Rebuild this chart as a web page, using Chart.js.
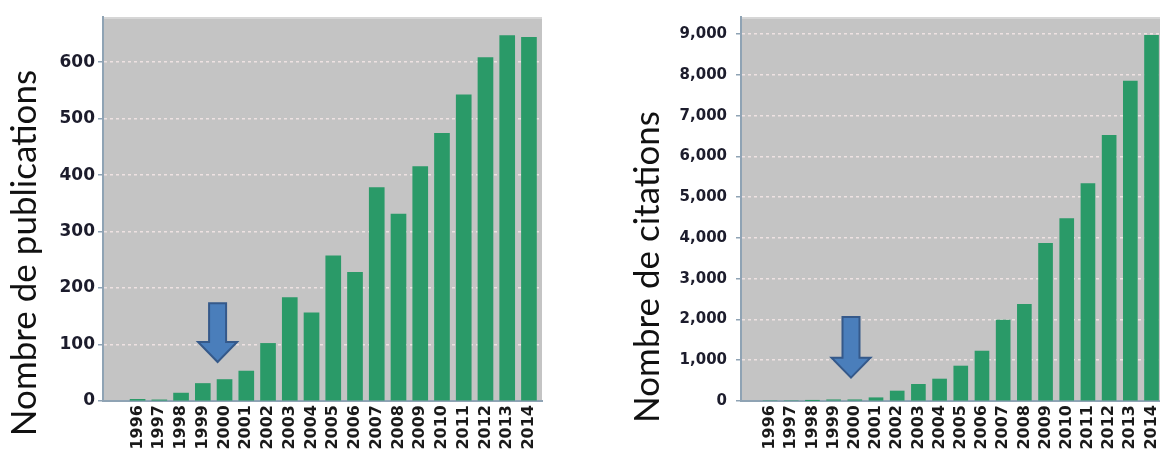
<!DOCTYPE html>
<html>
<head>
<meta charset="utf-8">
<script src="https://cdn.jsdelivr.net/npm/chart.js@4.4.1/dist/chart.umd.min.js"></script>
<style>
  html, body { margin: 0; padding: 0; background: #ffffff; }
  body { width: 1160px; height: 459px; position: relative; overflow: hidden; }
  .box { position: absolute; top: 0; width: 580px; height: 459px; }
  #b1 { left: 0; }
  #b2 { left: 580px; }
</style>
</head>
<body>
<div class="box" id="b1"><canvas id="c1" width="580" height="459"></canvas></div>
<div class="box" id="b2"><canvas id="c2" width="580" height="459"></canvas></div>
<script>
// ---- data ----
const years = [1996, 1997, 1998, 1999, 2000, 2001, 2002, 2003, 2004, 2005, 2006, 2007, 2008, 2009, 2010, 2011, 2012, 2013, 2014];
const publications = [3, 2, 14, 31, 38, 53, 102, 183, 156, 257, 228, 378, 331, 415, 474, 542, 608, 647, 644];
const citations = [0, 0, 8, 30, 30, 80, 245, 409, 539, 858, 1225, 1985, 2370, 3865, 4478, 5335, 6520, 7850, 8970];
const pubTicks = [0, 100, 200, 300, 400, 500, 600];
const citTicks = [0, 1000, 2000, 3000, 4000, 5000, 6000, 7000, 8000, 9000];
const pubTitle = "Nombre de publications";
const citTitle = "Nombre de citations";
const pubArrow = { x: 1999.68, tip: 69, top: 173 };
const citArrow = { x: 1999.82, tip: 572, top: 2061 };

// ---- styling ----
const BAR = '#2a9a68';
const PANEL = '#c4c4c4';
const AXIS = '#8fa3b4';
const GRID = 'rgba(246,232,232,0.85)';

const panelPlugin = {
  id: 'panel',
  beforeDraw(chart) {
    const a = chart.chartArea, ctx = chart.ctx;
    ctx.save();
    ctx.fillStyle = PANEL;
    ctx.fillRect(a.left, a.top, a.right - a.left, a.bottom - a.top);
    ctx.fillStyle = '#d6d6d6';
    ctx.fillRect(a.left, a.top, a.right - a.left, 2);
    ctx.restore();
  }
};

const titlePlugin = {
  id: 'ytitle',
  afterDraw(chart, args, opts) {
    const ctx = chart.ctx;
    ctx.save();
    ctx.translate(opts.x, opts.y);
    ctx.rotate(-Math.PI / 2);
    ctx.font = opts.font;
    ctx.fillStyle = '#111111';
    ctx.textAlign = 'center';
    ctx.textBaseline = 'alphabetic';
    ctx.fillText(opts.text, 0, 0);
    ctx.restore();
  }
};

const arrowPlugin = {
  id: 'arrow',
  afterDatasetsDraw(chart, args, opts) {
    const xs = chart.scales.x, ys = chart.scales.y, ctx = chart.ctx;
    const cx = xs.getPixelForValue(opts.x);
    const tip = ys.getPixelForValue(opts.tip);
    const top = ys.getPixelForValue(opts.top);
    const sw = 8.5, hw = 19.5, hh = 20;
    ctx.save();
    ctx.beginPath();
    ctx.moveTo(cx - sw, top);
    ctx.lineTo(cx + sw, top);
    ctx.lineTo(cx + sw, tip - hh);
    ctx.lineTo(cx + hw, tip - hh);
    ctx.lineTo(cx, tip);
    ctx.lineTo(cx - hw, tip - hh);
    ctx.lineTo(cx - sw, tip - hh);
    ctx.closePath();
    ctx.fillStyle = '#4a7ebb';
    ctx.fill();
    ctx.lineWidth = 2;
    ctx.strokeStyle = '#35598a';
    ctx.stroke();
    ctx.restore();
  }
};

function makeChart(id, values, ticks, yMax, xMin, xMax, yWidth, padRight, yFont, yPad, barW, title, titleX, titleY, arrow) {
  return new Chart(document.getElementById(id), {
    type: 'bar',
    data: {
      datasets: [{
        data: years.map((y, i) => ({ x: y, y: values[i] })),
        backgroundColor: BAR,
        borderWidth: 0,
        barThickness: barW
      }]
    },
    options: {
      responsive: false,
      animation: false,
      events: [],
      layout: { padding: { top: 17, right: padRight, bottom: 0, left: 0 } },
      plugins: {
        legend: { display: false },
        tooltip: { enabled: false },
        ytitle: { text: title, x: titleX, y: titleY, font: '35px Lato' },
        arrow: arrow
      },
      scales: {
        x: {
          type: 'linear',
          offset: false,
          min: xMin,
          max: xMax,
          afterBuildTicks: s => { s.ticks = years.map(v => ({ value: v })); },
          afterFit: s => { s.height = 58; s.paddingLeft = 0; s.paddingRight = 0; },
          grid: { display: false, drawTicks: false, offset: false },
          border: { display: true, color: AXIS, width: 2 },
          ticks: {
            autoSkip: false,
            minRotation: 90,
            maxRotation: 90,
            padding: 4,
            color: '#1a1a1a',
            font: { family: 'DejaVu Sans', size: 16, weight: 'bold' },
            callback: v => String(v)
          }
        },
        y: {
          min: 0,
          max: yMax,
          afterBuildTicks: s => { s.ticks = ticks.map(v => ({ value: v })); },
          afterFit: s => { s.width = yWidth; s.paddingTop = 0; s.paddingBottom = 0; },
          grid: { color: GRID, lineWidth: 1.5, drawTicks: true, tickLength: 5, tickColor: AXIS, tickWidth: 1.5 },
          border: { display: true, color: AXIS, width: 2, dash: [3, 3] },
          ticks: {
            padding: yPad,
            color: '#1c1c2c',
            font: { family: 'DejaVu Sans', size: yFont, weight: 'bold' },
            callback: v => v.toLocaleString('en-US')
          }
        }
      }
    },
    plugins: [panelPlugin, titlePlugin, arrowPlugin]
  });
}

makeChart('c1', publications, pubTicks, 680, 1994.41, 2014.6, 103, 38, 17, 3, 15, pubTitle, 36, 253, pubArrow);
makeChart('c2', citations, citTicks, 9420, 1994.63, 2014.4, 161, 0, 15, 9, 14, citTitle, 79, 267, citArrow);
</script>
</body>
</html>
